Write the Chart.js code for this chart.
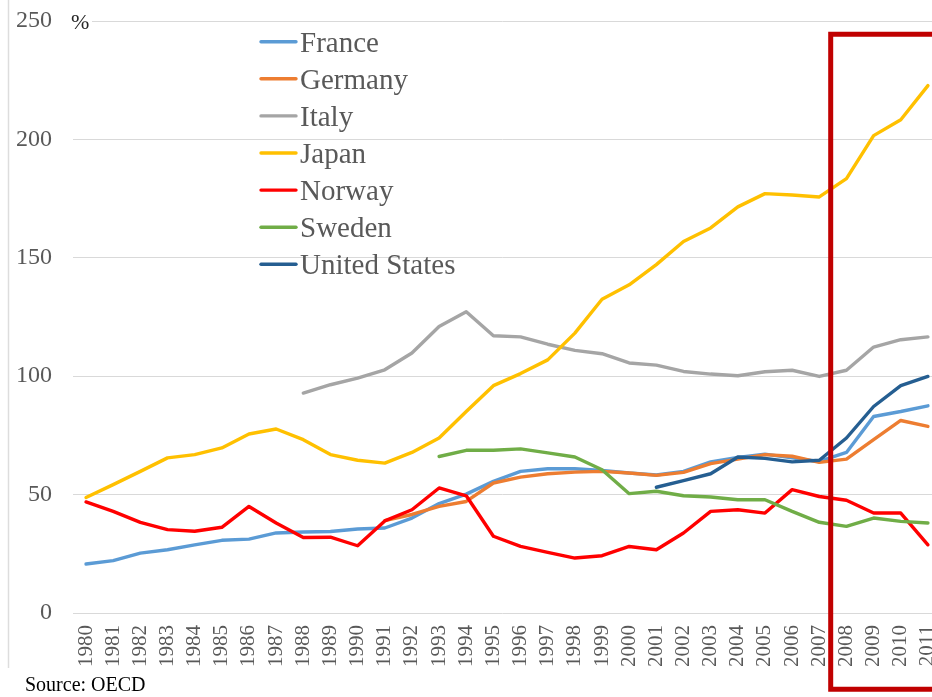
<!DOCTYPE html>
<html><head><meta charset="utf-8">
<script src="https://cdn.jsdelivr.net/npm/chart.js@4/dist/chart.umd.min.js"></script>
<style>html,body{margin:0;padding:0;background:#fff;overflow:hidden}</style>
</head><body>
<canvas id="c" width="932" height="697"></canvas>
<script>
const years = [1980,1981,1982,1983,1984,1985,1986,1987,1988,1989,1990,1991,1992,1993,1994,1995,1996,1997,1998,1999,2000,2001,2002,2003,2004,2005,2006,2007,2008,2009,2010,2011];
const yTicks = [0,50,100,150,200,250];
const france  = [20.7,22.1,25.3,26.7,28.8,30.7,31.2,33.8,34.2,34.4, 35.5,35.9,40.1,46.2,50.2,55.6,59.8,60.9,60.9,60.2, 59.1,58.3,59.8,63.8,65.7,67.1,65.5,64.0,67.8,83.0, 85.1,87.5];
const germany = [null,null,null,null,null,null,null,null,null,null, null,39.0,41.6,45.0,47.1,54.9,57.4,58.8,59.5,59.8, 59.1,58.1,59.4,63.1,65.0,66.9,66.2,63.6,65.0,73.2, 81.3,78.8];
const italy   = [null,null,null,null,null,null,null,null,92.9,96.4, 99.2,102.7,109.8,121.0,127.2,117.1,116.6,113.5,110.9,109.5, 105.6,104.7,102.0,100.9,100.2,101.9,102.5,99.9,102.5,112.3, 115.4,116.6];
const japan   = [48.8,54.2,59.8,65.5,66.9,69.7,75.6,77.7,73.2,66.9, 64.5,63.3,67.8,73.9,85.1,96.0,101.1,106.9,118.2,132.5, 138.6,147.1,156.9,162.6,171.5,177.1,176.5,175.7,183.4,201.6, 208.3,222.7];
const norway  = [46.9,42.9,38.3,35.2,34.5,36.2,45.0,38.0,31.9,32.0, 28.4,38.9,43.6,52.8,49.5,32.4,28.1,25.6,23.2,24.2, 28.1,26.7,33.8,42.9,43.6,42.2,52.1,49.2,47.6,42.2, 42.2,28.8];
const sweden  = [null,null,null,null,null,null,null,null,null,null, null,null,null,66.1,68.7,68.7,69.3,67.6,65.9,60.5, 50.4,51.4,49.5,49.0,47.8,47.8,42.9,38.3,36.6,40.1, 38.7,38.0];
const usa     = [null,null,null,null,null,null,null,null,null,null, null,null,null,null,null,null,null,null,null,null, null,53.1,55.9,58.8,65.9,65.3,63.8,64.5,73.9,87.2, 96.0,99.9];
const seriesNames = ['France','Germany','Italy','Japan','Norway','Sweden','United States'];
const seriesValues = [france, germany, italy, japan, norway, sweden, usa];
const seriesColors = ['#5B9BD5','#ED7D31','#A5A5A5','#FFC000','#FF0000','#70AD47','#255E91'];

function toPoints(vals){
  const pts = [];
  vals.forEach((v,i)=>{ if (v !== null) pts.push({x: years[i], y: v}); });
  return pts;
}

const datasets = seriesNames.map((name,i)=>({
  label: name,
  data: toPoints(seriesValues[i]),
  borderColor: seriesColors[i],
  backgroundColor: seriesColors[i],
  borderWidth: 3.4,
  pointRadius: 0,
  tension: 0,
  fill: false,
  borderJoinStyle: 'round',
  borderCapStyle: 'round',
  order: seriesNames.length - i
}));

const decorPlugin = {
  id: 'decor',
  beforeDraw(chart){
    const ctx = chart.ctx;
    ctx.save();
    ctx.fillStyle = '#fff';
    ctx.fillRect(0,0,chart.width,chart.height);
    ctx.restore();
  },
  afterDraw(chart){
    const ctx = chart.ctx;
    ctx.save();
    // left frame line
    ctx.strokeStyle = '#DDDDDD';
    ctx.lineWidth = 1.5;
    ctx.beginPath(); ctx.moveTo(8.5,0); ctx.lineTo(8.5,668); ctx.stroke();
    // percent label with white box
    ctx.fillStyle = '#fff';
    ctx.fillRect(70,10,22,22);
    ctx.fillStyle = '#262626';
    ctx.font = '22px "Liberation Serif"';
    ctx.textBaseline = 'alphabetic';
    ctx.textAlign = 'left';
    ctx.fillText('%', 71, 29);
    // legend
    const ds = chart.data.datasets;
    ds.forEach((d,i)=>{
      const ly = 41.7 + i*37.1;
      ctx.strokeStyle = d.borderColor;
      ctx.lineWidth = 3.4;
      ctx.lineCap = 'round';
      ctx.beginPath(); ctx.moveTo(261, ly); ctx.lineTo(296, ly); ctx.stroke();
      ctx.fillStyle = '#595959';
      ctx.font = '29px "Liberation Serif"';
      ctx.fillText(d.label, 300, ly + 10);
    });
    // source
    ctx.fillStyle = '#000';
    ctx.font = '20px "Liberation Serif"';
    ctx.fillText('Source: OECD', 25, 691);
    // red highlight box (right side runs off the picture)
    ctx.strokeStyle = '#C00000';
    ctx.lineWidth = 5;
    ctx.lineCap = 'square';
    ctx.beginPath();
    ctx.moveTo(chart.width + 20, 34.3);
    ctx.lineTo(830.7, 34.3);
    ctx.lineTo(830.7, 689.3);
    ctx.lineTo(chart.width + 20, 689.3);
    ctx.stroke();
    ctx.restore();
  }
};

new Chart(document.getElementById('c'), {
  type: 'line',
  data: { datasets },
  options: {
    responsive: false,
    devicePixelRatio: 1,
    animation: false,
    layout: { padding: { left: 0, right: 0, top: 21, bottom: 0 } },
    plugins: { legend: { display: false }, tooltip: { enabled: false } },
    scales: {
      x: {
        type: 'linear',
        min: 1979.52, max: 2011.15,
        grid: { display: false, drawTicks: false },
        border: { display: false },
        ticks: {
          stepSize: 1, autoSkip: false, includeBounds: false,
          minRotation: 90, maxRotation: 90, padding: 12,
          color: '#595959',
          font: { family: '"Liberation Serif"', size: 21 },
          callback: v => String(v)
        },
        afterBuildTicks(s){ s.ticks = s.ticks.filter(t => years.includes(t.value)); },
        afterFit(s){ s.height = 84; s.paddingLeft = 0; s.paddingRight = 0; }
      },
      y: {
        min: 0, max: 250,
        grid: { color: '#D9D9D9', lineWidth: 1, drawTicks: false },
        border: { display: false },
        ticks: {
          stepSize: 50, padding: 21, color: '#595959',
          font: { family: '"Liberation Serif"', size: 24 }
        },
        afterBuildTicks(s){ s.ticks = yTicks.map(v => ({ value: v })); },
        afterFit(s){ s.width = 73; s.paddingTop = 0; s.paddingBottom = 0; }
      }
    }
  },
  plugins: [decorPlugin]
});
</script>
</body></html>
